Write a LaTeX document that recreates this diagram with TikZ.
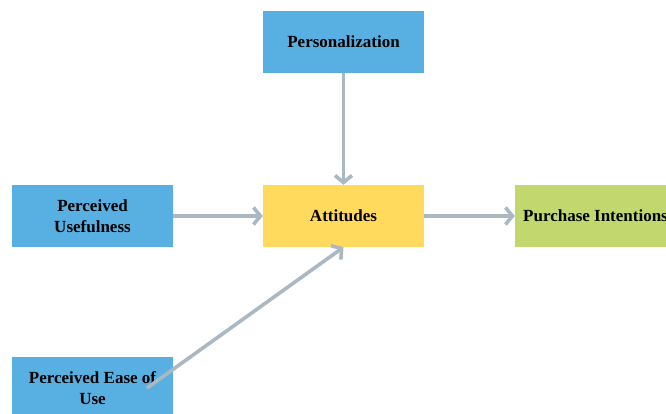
\documentclass[tikz,border=0pt]{standalone}
\usepackage{fontspec}
\setmainfont{Liberation Serif}
\usetikzlibrary{arrows.meta}
\definecolor{boxblue}{RGB}{88,176,226}
\definecolor{boxyellow}{RGB}{255,218,92}
\definecolor{boxgreen}{RGB}{194,216,110}
\definecolor{arrowgrey}{RGB}{170,184,196}
\tikzset{
  box/.style={minimum width=161pt, minimum height=62pt, inner sep=0pt, align=center,
    font=\fontsize{17}{21.5}\selectfont\bfseries, text=black},
  conn/.style={draw=arrowgrey, line width=3.6pt,
    -{Straight Barb[length=7pt, width=17pt, line width=3.6pt]}}
}
\begin{document}
\begin{tikzpicture}[x=1pt,y=-1pt]
\useasboundingbox (0,0) rectangle (666,414);
\clip (0,0) rectangle (666,414);
\node[box, fill=boxblue] (pers) at (343.5,42) {Personalization};
\node[box, fill=boxblue] (pu) at (92.5,216) {Perceived\\Usefulness};
\node[box, fill=boxyellow] (att) at (343.5,216) {Attitudes};
\node[box, fill=boxgreen] (pi) at (595.5,216) {Purchase Intentions};
\node[box, fill=boxblue] (peou) at (92.5,388) {Perceived Ease of\\Use};
\coordinate (s) at (147,388);
\draw[conn] (pers.south) -- (att.north);
\draw[conn] (pu.east) -- (att.west);
\draw[conn] (att.east) -- (pi.west);
\draw[conn] (s) -- (att.south);
\end{tikzpicture}
\end{document}
